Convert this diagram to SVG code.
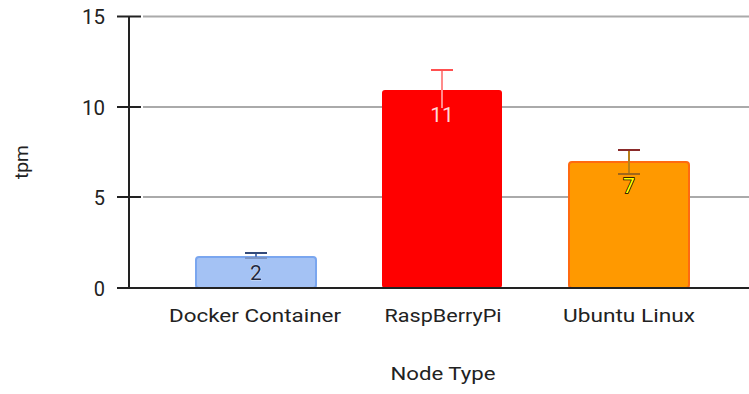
<svg xmlns="http://www.w3.org/2000/svg" width="749" height="394" viewBox="0 0 749 394">
<style>
.t{font-family:Roboto,"Liberation Sans",sans-serif;fill:#222;}
.tick{font-size:20px;text-anchor:end;}
.cat{font-size:18px;text-anchor:middle;}
.grid{stroke:#aaaaaa;stroke-width:2;}
.ax{stroke:#222;stroke-width:2;}
.lbl{font-family:Roboto,"Liberation Sans",sans-serif;font-size:21px;text-anchor:middle;}
</style>
<rect width="749" height="394" fill="#fff"/>
<g id="grid">
<line class="grid" x1="143" y1="16.5" x2="749" y2="16.5"/>
<line class="grid" x1="143" y1="107" x2="749" y2="107"/>
<line class="grid" x1="143" y1="197" x2="749" y2="197"/>
<line class="ax" x1="117" y1="16.5" x2="141" y2="16.5"/>
<line class="ax" x1="117" y1="107" x2="141" y2="107"/>
<line class="ax" x1="117" y1="197" x2="141" y2="197"/>
<line class="ax" x1="129" y1="16" x2="129" y2="288"/>
</g>
<g id="axis-labels">
<text class="t tick" x="105" y="24" textLength="23" lengthAdjust="spacingAndGlyphs">15</text>
<text class="t tick" x="105" y="115" textLength="23" lengthAdjust="spacingAndGlyphs">10</text>
<text class="t tick" x="105" y="205">5</text>
<text class="t tick" x="105" y="296">0</text>
<text class="t" font-size="18" text-anchor="middle" textLength="34" lengthAdjust="spacingAndGlyphs" transform="translate(28,162) rotate(-90)">tpm</text>
<text class="t" font-size="18" text-anchor="middle" textLength="105" lengthAdjust="spacingAndGlyphs" x="443" y="380">Node Type</text>
</g>
<g id="bar-docker">
<rect x="196" y="257" width="120" height="31" rx="3" fill="#a4c2f4" stroke="#7aa6ef" stroke-width="2"/>
<text class="t cat" x="255" y="322" textLength="172" lengthAdjust="spacingAndGlyphs">Docker Container</text>
</g>
<g id="bar-raspberrypi">
<rect x="382" y="90" width="120" height="198" rx="3" fill="#ff0000"/>
<text class="t cat" x="443" y="322" textLength="117" lengthAdjust="spacingAndGlyphs">RaspBerryPi</text>
</g>
<g id="bar-ubuntu">
<rect x="569" y="162" width="120" height="126" rx="3" fill="#ff9900" stroke="#ff6a10" stroke-width="2"/>
<text class="t cat" x="629" y="322" textLength="132" lengthAdjust="spacingAndGlyphs">Ubuntu Linux</text>
</g>
<g id="connectors">
<line class="ax" x1="117" y1="288" x2="749" y2="288"/>
<g stroke-width="2">
<line x1="256" y1="253" x2="256" y2="258" stroke="#5a7ab8"/>
<line x1="245" y1="253" x2="267" y2="253" stroke="#334a7a"/>
<line x1="245" y1="258" x2="267" y2="258" stroke="#7b94c4"/>
<line x1="442" y1="70" x2="442" y2="108" stroke="#ff8a8a"/>
<line x1="431" y1="70" x2="453" y2="70" stroke="#ff5050"/>
<line x1="629" y1="150" x2="629" y2="174" stroke="#b8801a"/>
<line x1="618" y1="150" x2="640" y2="150" stroke="#8a2a2a"/>
<line x1="618" y1="174" x2="640" y2="174" stroke="#a0661a"/>
</g>
</g>
<g id="value-labels">
<text class="lbl" x="256" y="280" fill="#1f2a44" stroke="#ffffff" stroke-width="0.6" paint-order="stroke">2</text>
<text class="lbl" x="442" y="122" fill="#ffd6d6">11</text>
<text class="lbl" x="629" y="193" fill="#ffff00" stroke="#000" stroke-width="1.5" paint-order="stroke">7</text>
</g>
</svg>
